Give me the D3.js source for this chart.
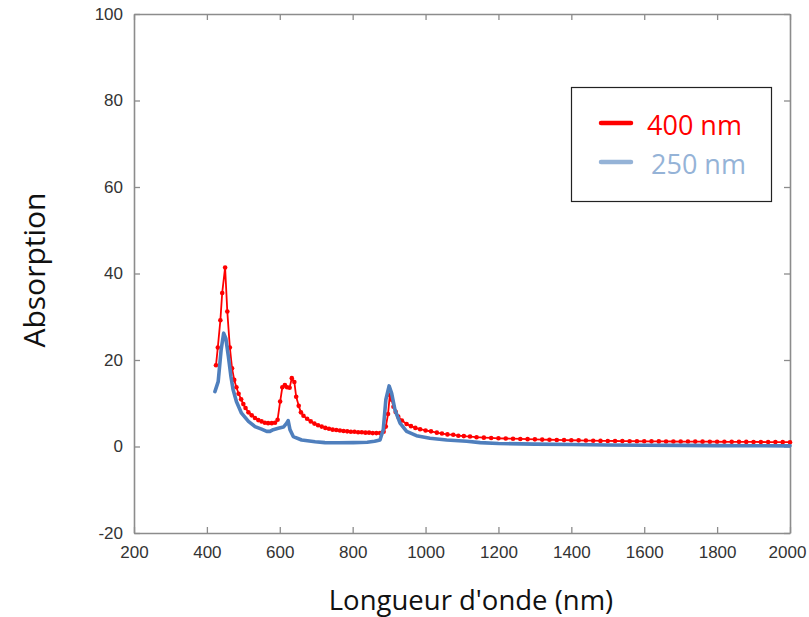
<!DOCTYPE html>
<html>
<head>
<meta charset="utf-8">
<script src="https://cdn.jsdelivr.net/npm/d3@7"></script>
<style>
  html, body { margin: 0; padding: 0; background: #fff; }
  svg { display: block; }
</style>
</head>
<body>
<svg id="chart" width="809" height="617"></svg>
<script>
// ---- Data ----
const xTicks = [200, 400, 600, 800, 1000, 1200, 1400, 1600, 1800, 2000];
const yTicks = [-20, 0, 20, 40, 60, 80, 100];
const seriesNames = ["400 nm", "250 nm"];

// 400 nm series (red, with markers)
const redX = [425,430,437,442,450,456,463,469,475,481,487,494,500,506,514,523,532,541,550,559,568,578,587,594,
  601,607,614,620,627,633,640,645,652,658,665,675,685,695,705,715,725,735,745,755,765,775,785,795,805,815,825,835,845,855,865,875,885,
  891,897,902,907,912,918,925,935,948,960,972,985,1000,1015,1031,1045,1060,1076,1090,1105,1122,
  1140,1160,1180,1200,1220,1240,1260,1280,1300,1320,1340,1360,1380,1400,1420,1440,1460,1480,1500,1520,1540,1560,1580,1600,
  1620,1640,1660,1680,1700,1720,1740,1760,1780,1800,1820,1840,1860,1880,1900,1920,1940,1960,1980,2000];
const redY = [18.8,22.9,29.2,35.5,41.4,31.2,22.9,18.1,15.4,13.7,12.2,10.9,9.8,8.9,7.9,7.2,6.6,6.1,5.8,5.5,5.4,5.4,5.5,6.2,
  10.4,13.7,14.2,13.7,13.6,15.8,14.9,11.5,9.4,7.9,7.1,6.4,5.8,5.3,4.9,4.6,4.3,4.1,3.9,3.8,3.7,3.6,3.5,3.4,3.4,3.3,3.3,3.2,3.2,3.1,3.1,3.1,3.4,
  4.6,7.5,11.9,10.8,9.2,8.0,6.9,6.0,5.2,4.7,4.3,4.0,3.7,3.5,3.2,3.0,2.8,2.7,2.5,2.4,2.3,
  2.15,2.05,1.98,1.9,1.85,1.8,1.75,1.7,1.65,1.6,1.56,1.52,1.48,1.45,1.42,1.38,1.34,1.3,1.28,1.27,1.25,1.23,1.21,1.2,
  1.19,1.18,1.17,1.16,1.15,1.14,1.13,1.12,1.11,1.1,1.09,1.08,1.07,1.06,1.05,1.04,1.03,1.02,1.01,1.0];

// 250 nm series (blue line)
const blueX = [422,431,439,446,452,459,466,472,481,495,514,532,550,564,573,582,596,610,619,623,628,637,660,697,724,760,802,840,860,875,
  884,891,900,907,916,930,948,975,1012,1058,1113,1150,1200,1300,1400,1500,1600,1700,1800,1900,2000];
const blueY = [12.7,15.0,22.3,26.2,25.0,20.8,16.2,13.1,10.4,7.7,5.8,4.6,4.0,3.5,3.5,3.9,4.2,4.5,5.4,6.0,3.9,2.3,1.5,1.1,0.9,0.85,0.9,1.0,1.2,1.5,
  3.9,10.8,14.0,12.3,8.5,5.4,3.5,2.5,1.9,1.5,1.2,0.9,0.7,0.55,0.45,0.35,0.3,0.25,0.2,0.18,0.15];

// ---- Drawing ----
const svg = d3.select("#chart");
svg.append("rect").attr("width", 809).attr("height", 617).attr("fill", "#fff");

const mLeft = 134, mRight = 790, mTop = 14, mBottom = 533;
const x = d3.scaleLinear().domain([200, 2000]).range([mLeft, mRight]);
const y = d3.scaleLinear().domain([-20, 100]).range([mBottom, mTop]);

const axisColor = "#8c8c8c";
const tickLen = 6;
const labelFont = "'Liberation Sans', Arial, sans-serif";
const fmt = d => String(d);

// Bottom axis (ticks inward)
const gB = svg.append("g").attr("transform", `translate(0,${mBottom})`)
  .call(d3.axisBottom(x).tickValues(xTicks).tickFormat(fmt).tickSizeInner(-tickLen).tickSizeOuter(0).tickPadding(13));
// Top axis
const gT = svg.append("g").attr("transform", `translate(0,${mTop})`)
  .call(d3.axisTop(x).tickValues(xTicks).tickSizeInner(-tickLen).tickSizeOuter(0).tickFormat(""));
// Left axis
const gL = svg.append("g").attr("transform", `translate(${mLeft},0)`)
  .call(d3.axisLeft(y).tickValues(yTicks).tickFormat(fmt).tickSizeInner(-tickLen).tickSizeOuter(0).tickPadding(11));
// Right axis
const gR = svg.append("g").attr("transform", `translate(${mRight},0)`)
  .call(d3.axisRight(y).tickValues(yTicks).tickSizeInner(-tickLen).tickSizeOuter(0).tickFormat(""));

[gB, gT, gL, gR].forEach(g => {
  g.select(".domain").attr("stroke", axisColor).attr("stroke-width", 1.6);
  g.selectAll(".tick line").attr("stroke", axisColor).attr("stroke-width", 1.3);
  g.selectAll(".tick text").attr("fill", "#333").style("font-family", labelFont).style("font-size", "17px");
});
gB.selectAll(".tick text").attr("dy", "0.71em")
  .attr("dx", d => d === 2000 ? -3 : 0);

// Series
const redData = redX.map((v, i) => [v, redY[i]]);
const blueData = blueX.map((v, i) => [v, blueY[i]]);
const line = d3.line().x(d => x(d[0])).y(d => y(d[1]));

const plot = svg.append("g");
plot.append("path").datum(redData).attr("d", line)
  .attr("fill", "none").attr("stroke", "#ff0000").attr("stroke-width", 1.8).attr("stroke-linejoin", "round");
plot.selectAll("circle.red").data(redData).join("circle").attr("class", "red")
  .attr("cx", d => x(d[0])).attr("cy", d => y(d[1])).attr("r", 2.3).attr("fill", "#ff0000");
plot.append("path").datum(blueData).attr("d", line)
  .attr("fill", "none").attr("stroke", "#4f7fbd").attr("stroke-width", 3.6)
  .attr("stroke-linejoin", "round").attr("stroke-linecap", "round");

// Legend
const lg = svg.append("g");
lg.append("rect").attr("x", 571.5).attr("y", 87.5).attr("width", 200).attr("height", 114)
  .attr("fill", "#fff").attr("stroke", "#222").attr("stroke-width", 1.2);
const legColors = ["#ff0000", "#95b3d7"];
seriesNames.forEach((name, i) => {
  const cy = 123 + i * 39;
  lg.append("line").attr("x1", 601).attr("x2", 631).attr("y1", cy).attr("y2", cy)
    .attr("stroke", legColors[i]).attr("stroke-width", 4.5).attr("stroke-linecap", "round");
  lg.append("text").attr("x", 647 + i * 4).attr("y", cy + 12).text(name)
    .attr("fill", legColors[i]).style("font-family", "'Open Sans', sans-serif").style("font-size", "27px");
});

// Axis titles
svg.append("text").attr("x", 471).attr("y", 610).attr("text-anchor", "middle")
  .text("Longueur d'onde (nm)").attr("fill", "#111")
  .style("font-family", "'Open Sans', sans-serif").style("font-size", "27.5px");
svg.append("text").attr("transform", "translate(45,270) rotate(-90)").attr("text-anchor", "middle")
  .text("Absorption").attr("fill", "#111")
  .style("font-family", "'Open Sans', sans-serif").style("font-size", "30px");
</script>
</body>
</html>
